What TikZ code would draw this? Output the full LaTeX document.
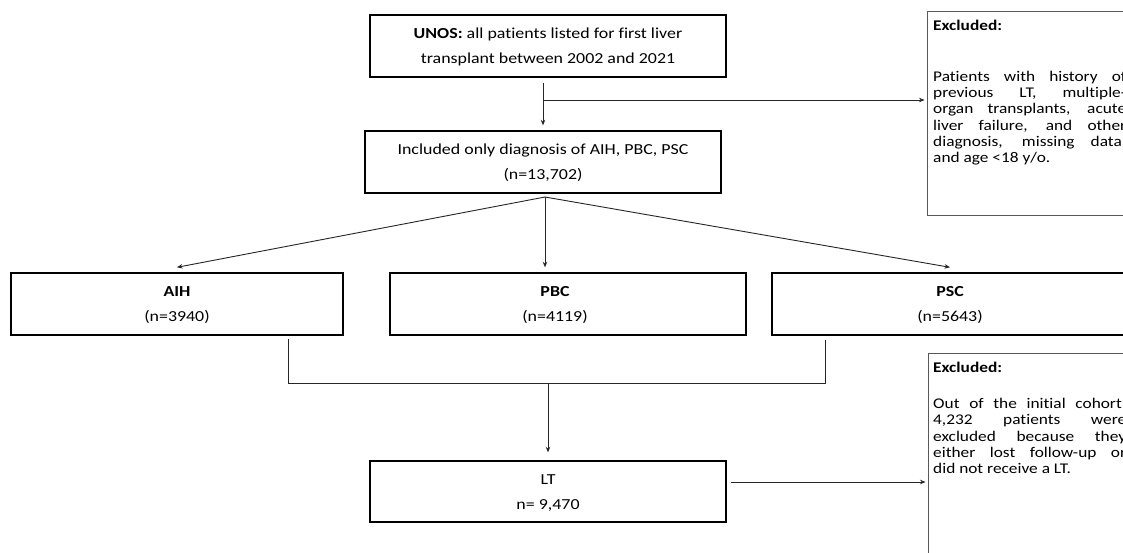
\documentclass[tikz,border=0pt]{standalone}
\usepackage{fontspec}
\setmainfont{Carlito}[FakeStretch=1.17,Ligatures=NoCommon,Contextuals=NoAlternate]
\usetikzlibrary{arrows.meta}
\newcommand{\mainsz}{\fontsize{15.3}{25}\selectfont}
\newcommand{\exsz}{\fontsize{14.8}{16.3}\selectfont}
\newcommand{\jl}[1]{\makebox[193pt][s]{\strut #1}}
\begin{document}
\begin{tikzpicture}[x=1pt,y=-1pt,
  box/.style={draw=black, line width=1.4pt, inner sep=0pt, align=center, font=\mainsz},
  exbox/.style={draw=black!65, line width=1pt, inner sep=0pt},
  extext/.style={inner sep=0pt, anchor=north west, align=left, font=\exsz, text=black},
  conn/.style={draw=black!85, line width=0.9pt},
  arr/.style={conn, -{Stealth[length=5.5pt,width=4.5pt]}}]
\useasboundingbox (0,0) rectangle (1123,552);
\clip (0,0) rectangle (1123,552);
\fill[white] (0,0) rectangle (1123,552);

\node[box, minimum width=356pt, minimum height=62pt] (unos) at (548,46)
  {\strut\textbf{UNOS:} all patients listed for first liver\\\strut transplant between 2002 and 2021};
\node[box, minimum width=356pt, minimum height=62pt] (inc) at (543,162)
  {\strut Included only diagnosis of AIH, PBC, PSC\\\strut(n=13,702)};
\node[box, minimum width=332pt, minimum height=62pt] (aih) at (177,304)
  {\strut\textbf{AIH}\\\strut(n=3940)};
\node[box, minimum width=356pt, minimum height=62pt] (pbc) at (568,304) {};
\node[inner sep=0pt, align=center, font=\mainsz] (pbct) at (555,304)
  {\strut\textbf{PBC}\\\strut(n=4119)};
\node[box, minimum width=356pt, minimum height=62pt] (psc) at (950,304)
  {\strut\textbf{PSC}\\\strut(n=5643)};
\node[box, minimum width=356pt, minimum height=61pt] (lt) at (548,491.5)
  {\strut LT\\\strut n= 9,470};

\node[exbox, minimum width=213pt, minimum height=204pt] (exc1) at (1033.5,113) {};
\node[exbox, minimum width=212pt, minimum height=267pt] (exc2) at (1034,486.5) {};

\node[extext] (exc1h) at (933,19.3) {\strut\textbf{Excluded:}};
\node[extext] (exc1t) at (933,69.6) {%
  \jl{Patients with history of}\\
  \jl{previous LT, multiple-}\\
  \jl{organ transplants, acute}\\
  \jl{liver failure, and other}\\
  \jl{diagnosis, missing data,}\\
  \strut and age <18 y/o.};

\node[extext] (exc2h) at (933,361.3) {\strut\textbf{Excluded:}};
\node[extext] (exc2t) at (933,396.9) {%
  \jl{Out of the initial cohort,}\\
  \jl{4,232 patients were}\\
  \jl{excluded because they}\\
  \jl{either lost follow-up or}\\
  \strut did not receive a LT.};

% connectors
\draw[arr] ([yshift=-5pt]unos.south -| inc.north) -- ([yshift=5pt]inc.north);
\coordinate (br) at (543,100);
\draw[arr] (br) -- ([xshift=-2pt]exc1.west |- br);

\coordinate (apex) at (545,197);
\coordinate (pbctop) at ([yshift=5pt]pbc.north);
\draw[arr] (apex) -- ([yshift=5pt]aih.north);
\draw[arr] (apex) -- (apex |- pbctop);
\draw[arr] (apex) -- ([yshift=5pt]psc.north);

\coordinate (ba) at (288,339);
\coordinate (bb) at (288,383);
\coordinate (bc) at (825,383);
\coordinate (bd) at (825,340);
\draw[conn] (ba) -- (bb) -- (bc) -- (bd);
\coordinate (bm) at (548,383);
\draw[arr] (bm) -- ([yshift=8pt]lt.north);

\coordinate (lo) at (731,482);
\draw[arr] (lo) -- ([xshift=-2pt]exc2.west |- lo);
\end{tikzpicture}
\end{document}
